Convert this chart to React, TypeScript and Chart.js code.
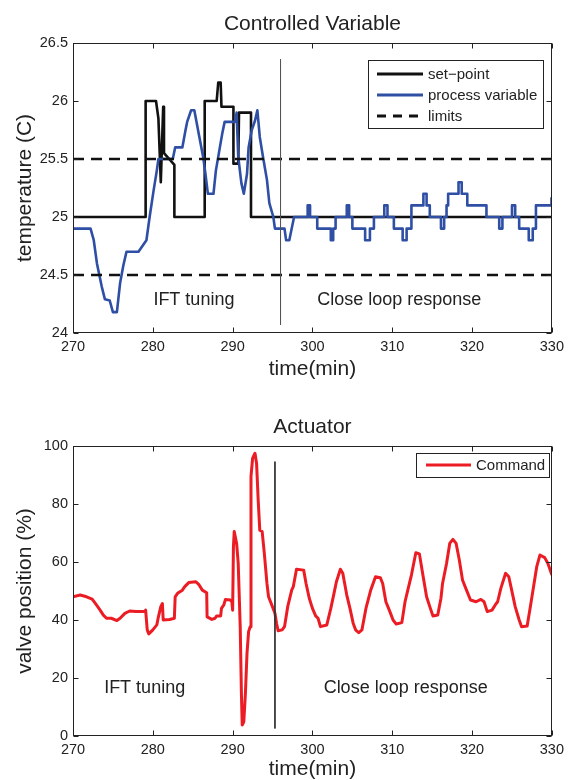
import React, { useEffect, useRef } from "react";
import { Chart, registerables } from "chart.js";

Chart.register(...registerables);

const FONT = "'Liberation Sans', Arial, Helvetica, sans-serif";
const TEXT = "#222222";
const BLUE = "#2f4fa5";
const RED = "#ec1c24";
const BLACK = "#111111";

// ---------- Controlled Variable data ----------
const xTicksTime = [270, 280, 290, 300, 310, 320, 330];
const tempTicks = [24, 24.5, 25, 25.5, 26, 26.5];

const spTime = [270, 279.1, 279.1, 280.4, 280.7, 281.0, 281.3, 281.4, 282.7, 282.7, 286.5, 286.5, 288.0, 288.2, 288.5, 288.6, 290.1, 290.1, 290.7, 290.8, 292.3, 292.3, 330];
const spValue = [25, 25, 26, 26, 25.85, 25.3, 25.95, 25.55, 25.45, 25, 25, 26, 26, 26.16, 26.16, 25.95, 25.95, 25.46, 25.46, 25.9, 25.9, 25, 25];

const pvTime = [
  270, 272.2, 272.6, 273.0, 273.6, 274.0, 274.6, 275.0, 275.5, 275.9, 276.3, 276.7, 278.2, 279.2, 279.6, 280.1, 280.5, 280.7,
  282.5, 282.8, 283.7, 284.1, 284.3, 284.8, 285.2, 285.8, 286.3, 286.6, 286.9, 287.6, 287.9, 288.4, 288.7, 289.0, 290.3, 290.5,
  290.7, 291.1, 291.4, 291.8, 292.0, 292.4, 292.8, 293.1, 293.4, 293.8, 294.3, 294.6, 295.1, 295.3, 296.5, 296.7, 297.1, 297.4, 297.7,
  299.4, 299.4, 299.7, 299.7, 300.6, 300.6, 302.3, 302.3, 302.6, 302.6, 302.9, 302.9, 304.3, 304.3, 304.6, 304.6, 305.0, 305.0,
  306.6, 306.6, 307.2, 307.2, 307.7, 307.7, 309.0, 309.0, 309.4, 309.4, 310.2, 310.2, 311.3, 311.3, 311.8, 311.8, 312.4, 312.4,
  313.9, 313.9, 314.3, 314.3, 314.7, 314.7, 316.1, 316.1, 316.5, 316.5, 316.8, 316.8, 317.0, 317.0, 318.3, 318.3, 318.7, 318.7,
  319.4, 319.4, 321.8, 321.8, 323.4, 323.4, 323.8, 323.8, 325.0, 325.0, 325.4, 325.4, 325.9, 325.9, 327.1, 327.1, 327.6, 327.6,
  328.0, 328.0, 329.9, 329.9, 330
];
const pvValue = [
  24.9, 24.9, 24.8, 24.6, 24.4, 24.29, 24.28, 24.18, 24.18, 24.43, 24.58, 24.7, 24.7, 24.8, 25.0, 25.23, 25.4, 25.5,
  25.5, 25.6, 25.6, 25.75, 25.82, 25.92, 25.92, 25.7, 25.52, 25.37, 25.2, 25.2, 25.4, 25.6, 25.72, 25.82, 25.82, 25.9,
  25.52, 25.29, 25.2, 25.37, 25.6, 25.75, 25.83, 25.92, 25.69, 25.52, 25.32, 25.12, 25.0, 24.9, 24.9, 24.8, 24.8, 24.9, 25.0,
  25.0, 25.1, 25.1, 25.0, 25.0, 24.9, 24.9, 24.8, 24.8, 24.9, 24.9, 25.0, 25.0, 25.1, 25.1, 25.0, 25.0, 24.9,
  24.9, 24.8, 24.8, 24.9, 24.9, 25.0, 25.0, 25.1, 25.1, 25.0, 25.0, 24.9, 24.9, 24.8, 24.8, 24.9, 24.9, 25.1,
  25.1, 25.2, 25.2, 25.1, 25.1, 25.0, 25.0, 24.9, 24.9, 25.0, 25.0, 25.1, 25.1, 25.2, 25.2, 25.3, 25.3, 25.2,
  25.2, 25.1, 25.1, 25.0, 25.0, 24.9, 24.9, 25.0, 25.0, 25.1, 25.1, 25.0, 25.0, 24.9, 24.9, 24.8, 24.8, 24.9,
  24.9, 25.1, 25.1, 25.17, 25.17
];

const limitTime = [270, 330];
const upperLimit = [25.5, 25.5];
const lowerLimit = [24.5, 24.5];

const tempSplitTime = [296.0, 296.0];
const tempSplitValue = [26.36, 24.07];

// ---------- Actuator data ----------
const valveTicks = [0, 20, 40, 60, 80, 100];

const cmdTime = [
  270, 270.9, 271.7, 272.4, 272.8, 273.4, 273.8, 274.2, 274.8, 275.5, 275.9, 276.5, 277.1, 277.9, 279.0, 279.1, 279.3, 279.5,
  280.0, 280.5, 280.7, 281.0, 281.2, 281.3, 282.1, 282.7, 282.8, 283.1, 283.7, 284.0, 284.5, 285.4, 285.8, 286.2, 286.75, 286.8,
  287.4, 287.8, 288.0, 288.5, 288.6, 288.9, 289.1, 289.7, 289.9, 290.0, 290.1, 290.2, 290.5, 290.7, 290.95, 291.1, 291.2, 291.4,
  291.6, 291.8, 292.0, 292.2, 292.3, 292.5, 292.8, 293.0, 293.2, 293.4, 293.7, 293.97, 294.3, 294.5, 294.9, 295.3, 295.5, 295.7,
  296.2, 296.5, 296.9, 297.4, 297.6, 298.0, 298.9, 299.2, 299.6, 300.0, 300.4, 300.7, 301.0, 301.8, 302.3, 302.7, 303.0, 303.5,
  303.8, 304.3, 304.7, 305.1, 305.4, 305.8, 306.2, 306.7, 307.3, 307.9, 308.5, 308.8, 309.2, 309.7, 310.1, 310.5, 311.2, 311.6,
  311.9, 312.4, 312.95, 313.4, 313.8, 314.3, 314.7, 315.1, 315.7, 316.1, 316.3, 316.8, 317.2, 317.6, 318.0, 318.4, 318.8, 319.3,
  319.8, 320.5, 321.1, 321.5, 321.9, 322.5, 322.9, 323.2, 323.6, 324.2, 324.6, 325.0, 325.4, 325.9, 326.2, 326.9, 327.3, 327.7,
  328.1, 328.5, 329.1, 329.5, 330.0
];
const cmdValue = [
  48.0, 48.6, 48.0, 47.2, 45.7, 43.4, 41.7, 40.6, 40.6, 39.8, 40.6, 42.3, 43.1, 42.9, 42.9, 43.4, 36.6, 35.2,
  36.6, 38.3, 41.1, 44.6, 45.7, 40.0, 40.2, 40.6, 48.0, 49.2, 50.3, 51.5, 52.9, 53.2, 52.1, 50.3, 49.4, 41.1,
  40.2, 40.6, 41.4, 41.4, 44.0, 45.2, 47.1, 46.9, 46.3, 43.4, 65.3, 70.5, 66.4, 59.5, 37.7, 14.7, 3.8, 4.9,
  14.7, 28.5, 36.0, 37.7, 89.4, 95.7, 97.5, 94.0, 81.4, 71.0, 70.5, 63.0, 52.6, 48.0, 45.2, 42.3, 38.9, 36.3,
  36.6, 37.7, 44.6, 50.3, 51.5, 57.5, 57.2, 52.6, 47.5, 44.0, 41.4, 40.6, 37.7, 38.3, 44.0, 49.2, 53.2, 57.5,
  56.1, 48.6, 44.0, 38.9, 36.6, 35.6, 36.6, 44.0, 50.3, 54.9, 54.6, 52.6, 46.3, 42.9, 40.0, 38.6, 39.1, 46.3,
  49.8, 55.5, 63.2, 62.8, 56.1, 48.0, 44.6, 41.4, 41.7, 47.5, 52.6, 59.5, 66.4, 67.8, 66.4, 60.7, 53.8, 50.3,
  46.9, 46.3, 47.1, 46.3, 42.9, 43.4, 45.2, 46.3, 50.9, 56.1, 54.9, 49.8, 44.6, 40.0, 37.7, 37.9, 44.6, 51.5,
  58.4, 62.4, 61.5, 59.5, 55.5
];

const valveSplitTime = [295.3, 295.3];
const valveSplitValue = [94.6, 2.6];

const pts = (xs: number[], ys: number[]) => xs.map((x, i) => ({ x, y: ys[i] }));

type LegendItem = { label: string; color: string; dash?: number[] };
type Note = { text: string; x: number; y: number };

function makeDecor(opts: {
  title: string;
  titleY: number;
  legendBox: { x: number; y: number; w: number; h: number };
  legendRows: number[];
  legendLine: [number, number];
  legendTextX: number;
  legend: LegendItem[];
  notes: Note[];
}) {
  return {
    id: "decor",
    afterDraw(chart: any) {
      const { ctx, chartArea: a, scales } = chart;
      const xs = scales.x;
      const ys = scales.y;
      ctx.save();
      // annotations
      ctx.fillStyle = TEXT;
      ctx.font = `18px ${FONT}`;
      ctx.textAlign = "left";
      ctx.textBaseline = "alphabetic";
      opts.notes.forEach((n) => ctx.fillText(n.text, xs.getPixelForValue(n.x), ys.getPixelForValue(n.y)));
      // frame
      ctx.strokeStyle = TEXT;
      ctx.lineWidth = 1;
      const L = Math.round(a.left) + 0.5, R = Math.round(a.right) - 0.5;
      const T = Math.round(a.top) + 0.5, B = Math.round(a.bottom) - 0.5;
      ctx.strokeRect(L, T, R - L, B - T);
      // inside ticks
      ctx.beginPath();
      xs.ticks.forEach((t: any) => {
        const px = Math.round(xs.getPixelForValue(t.value)) + 0.5;
        ctx.moveTo(px, B); ctx.lineTo(px, B - 5);
        ctx.moveTo(px, T); ctx.lineTo(px, T + 5);
      });
      ys.ticks.forEach((t: any) => {
        const py = Math.round(ys.getPixelForValue(t.value)) + 0.5;
        ctx.moveTo(L, py); ctx.lineTo(L + 5, py);
        ctx.moveTo(R, py); ctx.lineTo(R - 5, py);
      });
      ctx.stroke();
      // title
      ctx.font = `21px ${FONT}`;
      ctx.textAlign = "center";
      ctx.fillText(opts.title, (a.left + a.right) / 2, opts.titleY);
      // legend
      const lb = opts.legendBox;
      ctx.fillStyle = "#ffffff";
      ctx.fillRect(lb.x, lb.y, lb.w, lb.h);
      ctx.strokeStyle = TEXT;
      ctx.lineWidth = 1;
      ctx.strokeRect(lb.x + 0.5, lb.y + 0.5, lb.w, lb.h);
      ctx.font = `15px ${FONT}`;
      ctx.textAlign = "left";
      ctx.textBaseline = "middle";
      opts.legend.forEach((it, i) => {
        const y = opts.legendRows[i];
        ctx.strokeStyle = it.color;
        ctx.lineWidth = 3;
        ctx.setLineDash(it.dash || []);
        ctx.beginPath();
        ctx.moveTo(opts.legendLine[0], y);
        ctx.lineTo(opts.legendLine[1], y);
        ctx.stroke();
        ctx.setLineDash([]);
        ctx.fillStyle = TEXT;
        ctx.fillText(it.label, opts.legendTextX, y + 1);
      });
      ctx.restore();
    },
  };
}

const tickFont = { family: FONT, size: 14.5 };
const axisTitleFont = { family: FONT, size: 21, lineHeight: 1 };

function baseScales(yTicks: number[], yTitle: string, xHeight: number, xTitlePad: number) {
  return {
    x: {
      type: "linear",
      min: xTicksTime[0],
      max: xTicksTime[xTicksTime.length - 1],
      afterBuildTicks: (s: any) => { s.ticks = xTicksTime.map((v) => ({ value: v })); },
      ticks: { font: tickFont, color: TEXT, padding: 5, maxRotation: 0, autoSkip: false, callback: (v: any) => String(+v) },
      grid: { display: false, drawTicks: false },
      border: { display: false },
      title: { display: true, text: "time(min)", font: axisTitleFont, color: TEXT, padding: { top: 0, bottom: xTitlePad } },
      afterFit: (s: any) => { s.height = xHeight; },
    },
    y: {
      type: "linear",
      min: yTicks[0],
      max: yTicks[yTicks.length - 1],
      afterBuildTicks: (s: any) => { s.ticks = yTicks.map((v) => ({ value: v })); },
      ticks: { font: tickFont, color: TEXT, padding: 5, autoSkip: false, callback: (v: any) => String(+v) },
      grid: { display: false, drawTicks: false },
      border: { display: false },
      title: { display: true, text: yTitle, font: axisTitleFont, color: TEXT, padding: { top: 15, bottom: 0 } },
      afterFit: (s: any) => { s.width = 73; },
    },
  };
}

const line = (data: any[], color: string, width: number, order: number, dash?: number[]) => ({
  data,
  borderColor: color,
  backgroundColor: color,
  borderWidth: width,
  borderDash: dash || [],
  pointRadius: 0,
  tension: 0,
  fill: false,
  order,
  borderJoinStyle: "round",
});

function TempChart() {
  const ref = useRef<HTMLCanvasElement>(null);
  useEffect(() => {
    const chart = new Chart(ref.current as HTMLCanvasElement, {
      type: "line",
      data: {
        datasets: [
          line(pts(tempSplitTime, tempSplitValue), "#555555", 1, 0),
          line(pts(limitTime, upperLimit), BLACK, 2.5, 1, [11, 7]),
          line(pts(limitTime, lowerLimit), BLACK, 2.5, 1, [11, 7]),
          line(pts(pvTime, pvValue), BLUE, 2.6, 2),
          line(pts(spTime, spValue), BLACK, 2.6, 3),
        ] as any,
      },
      options: {
        animation: false,
        responsive: false,
        parsing: false as any,
        layout: { padding: { top: 43, right: 12, bottom: 0, left: 0 } },
        plugins: { legend: { display: false }, tooltip: { enabled: false }, title: { display: false } },
        scales: baseScales(tempTicks, "temperature (C)", 67, 20) as any,
      },
      plugins: [
        makeDecor({
          title: "Controlled Variable",
          titleY: 30,
          legendBox: { x: 368, y: 60, w: 175, h: 68 },
          legendRows: [74, 95, 116],
          legendLine: [377, 423],
          legendTextX: 428,
          legend: [
            { label: "set\u2212point", color: BLACK },
            { label: "process variable", color: BLUE },
            { label: "limits", color: BLACK, dash: [9, 7] },
          ],
          notes: [
            { text: "IFT tuning", x: 280.07, y: 24.241 },
            { text: "Close loop response", x: 300.6, y: 24.241 },
          ],
        }),
      ],
    });
    return () => chart.destroy();
  }, []);
  return <canvas ref={ref} width={569} height={400} style={{ display: "block" }} />;
}

function ValveChart() {
  const ref = useRef<HTMLCanvasElement>(null);
  useEffect(() => {
    const chart = new Chart(ref.current as HTMLCanvasElement, {
      type: "line",
      data: {
        datasets: [
          line(pts(valveSplitTime, valveSplitValue), "#333333", 1, 0),
          line(pts(cmdTime, cmdValue), RED, 3, 1),
        ] as any,
      },
      options: {
        animation: false,
        responsive: false,
        parsing: false as any,
        layout: { padding: { top: 46, right: 12, bottom: 0, left: 0 } },
        plugins: { legend: { display: false }, tooltip: { enabled: false }, title: { display: false } },
        scales: baseScales(valveTicks, "valve position (%)", 44, 0) as any,
      },
      plugins: [
        makeDecor({
          title: "Actuator",
          titleY: 33,
          legendBox: { x: 416, y: 53, w: 133, h: 24 },
          legendRows: [65],
          legendLine: [426, 471],
          legendTextX: 476,
          legend: [{ label: "Command", color: RED }],
          notes: [
            { text: "IFT tuning", x: 273.9, y: 14.9 },
            { text: "Close loop response", x: 301.4, y: 14.9 },
          ],
        }),
      ],
    });
    return () => chart.destroy();
  }, []);
  return <canvas ref={ref} width={569} height={380} style={{ display: "block" }} />;
}

export default function App() {
  return (
    <div style={{ position: "absolute", left: 0, top: 0, width: 569, height: 780, background: "#ffffff" }}>
      <TempChart />
      <ValveChart />
    </div>
  );
}
